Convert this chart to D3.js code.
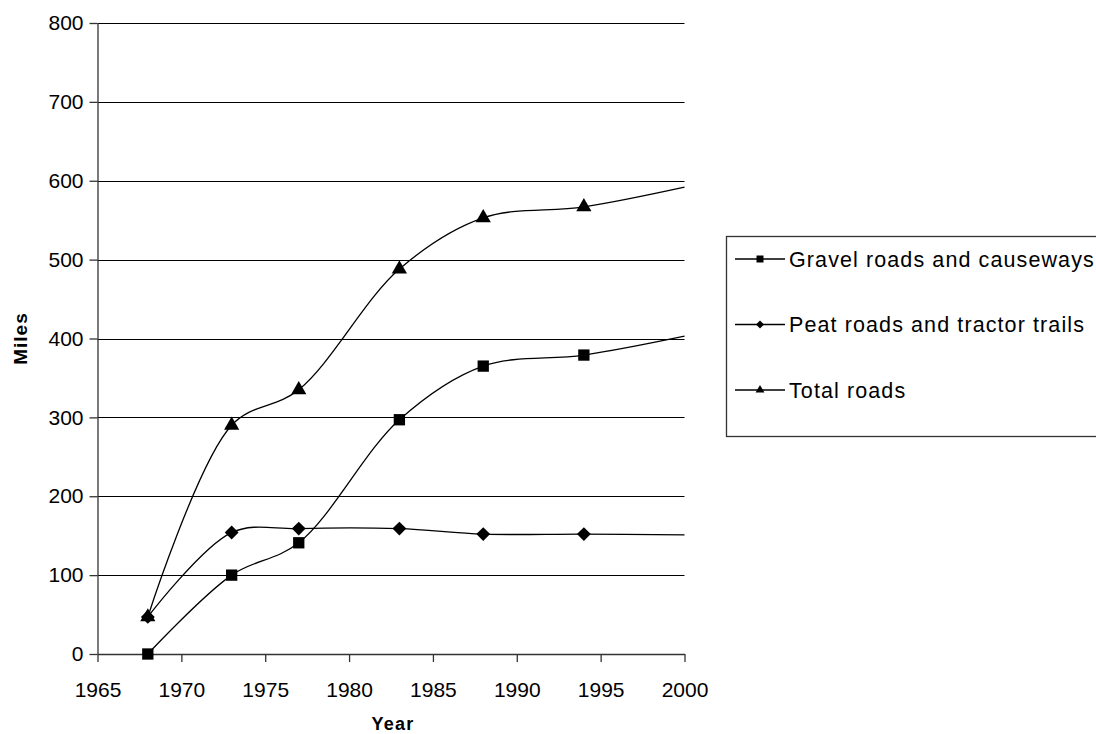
<!DOCTYPE html>
<html>
<head>
<meta charset="utf-8">
<script src="https://cdn.jsdelivr.net/npm/d3@7"></script>
<style>
	body { margin: 0; background: #fff; }
	svg { font-family: "Liberation Sans", Arial, sans-serif; }
</style>
</head>
<body>
<div id="chart"></div>
<script>
// Data
const years       = [1968, 1973, 1977, 1983, 1988, 1994, 2000];
const markedYears = [1968, 1973, 1977, 1983, 1988, 1994];
const gravel      = [0, 100, 141, 297, 365, 379, 403];
const peat        = [47, 154, 159, 159, 152, 152, 151];
const total       = [47, 290, 335, 488, 553, 567, 592];
const seriesNames = ["Gravel roads and causeways", "Peat roads and tractor trails", "Total roads"];
const xTicks      = [1965, 1970, 1975, 1980, 1985, 1990, 1995, 2000];
const yTicks      = [0, 100, 200, 300, 400, 500, 600, 700, 800];

const width = 1096, height = 734;
const plot = {left: 97.5, right: 684.5, top: 23, bottom: 654};

const svg = d3.select("#chart").append("svg")
	.attr("width", width).attr("height", height);

const x = d3.scaleLinear([1965, 2000], [plot.left, plot.right]);
const y = d3.scaleLinear([0, 800], [plot.bottom, plot.top]);

// diamond = square turned by 45 degrees
const diamond = {
	draw(ctx, size) {
		const r = Math.sqrt(size / 2);
		ctx.moveTo(0, -r); ctx.lineTo(r, 0); ctx.lineTo(0, r); ctx.lineTo(-r, 0); ctx.closePath();
	}
};

// Gridlines
svg.append("g").selectAll("line")
	.data(yTicks.filter(d => d > 0))
	.join("line")
	.attr("x1", plot.left).attr("x2", plot.right)
	.attr("y1", d => Math.round(y(d)) + 0.5).attr("y2", d => Math.round(y(d)) + 0.5)
	.attr("stroke", "#000").attr("stroke-width", 1);

// Axes
const axisY = svg.append("g")
	.attr("transform", `translate(${plot.left},0)`)
	.call(d3.axisLeft(y).tickValues(yTicks).tickSize(8).tickPadding(6).tickSizeOuter(0));
const axisX = svg.append("g")
	.attr("transform", `translate(0,${plot.bottom})`)
	.call(d3.axisBottom(x).tickValues(xTicks).tickFormat(d3.format("d")).tickSize(8).tickPadding(20).tickSizeOuter(0));

[axisY, axisX].forEach(a => {
	a.select(".domain").attr("stroke", "#333").attr("stroke-width", 1.3);
	a.selectAll(".tick line").attr("stroke", "#333").attr("stroke-width", 1.3);
	a.selectAll("text").attr("font-size", 21).attr("fill", "#000")
		.attr("font-family", "'Liberation Sans', Arial, sans-serif");
});

// Axis titles
svg.append("text")
	.attr("x", 393).attr("y", 730)
	.attr("text-anchor", "middle").attr("font-size", 18).attr("font-weight", "bold")
	.attr("letter-spacing", 1.3)
	.text("Year");
svg.append("text")
	.attr("transform", `translate(27, ${(plot.top + plot.bottom) / 2})rotate(-90)`)
	.attr("text-anchor", "middle").attr("font-size", 19).attr("font-weight", "bold")
	.attr("letter-spacing", 1)
	.text("Miles");

// Series
const series = [
	{name: seriesNames[0], values: gravel, shape: d3.symbolSquare, size: 128, legendSize: 49},
	{name: seriesNames[1], values: peat, shape: diamond, size: 96, legendSize: 32},
	{name: seriesNames[2], values: total, shape: d3.symbolTriangle, size: 100, legendSize: 34}
];

const line = d3.line()
	.x(d => x(d[0])).y(d => y(d[1]))
	.curve(d3.curveCatmullRom.alpha(0.5));

series.forEach(s => {
	const pts = years.map((yr, i) => [yr, s.values[i]]);
	svg.append("path")
		.datum(pts)
		.attr("fill", "none").attr("stroke", "#000").attr("stroke-width", 1.3)
		.attr("d", line);
	svg.append("g").selectAll("path")
		.data(pts.filter(p => markedYears.includes(p[0])))
		.join("path")
		.attr("transform", d => `translate(${x(d[0])},${y(d[1])})`)
		.attr("d", d3.symbol(s.shape, s.size))
		.attr("fill", "#000");
});

// Legend
const legend = svg.append("g");
legend.append("rect")
	.attr("x", 726.5).attr("y", 236.5).attr("width", 380).attr("height", 200)
	.attr("fill", "#fff").attr("stroke", "#333").attr("stroke-width", 1.3);
const rows = legend.selectAll("g.row")
	.data(series)
	.join("g").classed("row", true)
	.attr("transform", (d, i) => `translate(0, ${259 + i * 65.5})`);
rows.append("line")
	.attr("x1", 735).attr("x2", 785).attr("y1", 0).attr("y2", 0)
	.attr("stroke", "#000").attr("stroke-width", 1.3);
rows.append("path")
	.attr("transform", "translate(760,0)")
	.attr("d", d => d3.symbol(d.shape, d.legendSize)())
	.attr("fill", "#000");
rows.append("text")
	.attr("x", 789).attr("y", 0).attr("dy", "0.36em")
	.attr("font-size", 21.5).attr("letter-spacing", 1.1)
	.text(d => d.name);
</script>
</body>
</html>
